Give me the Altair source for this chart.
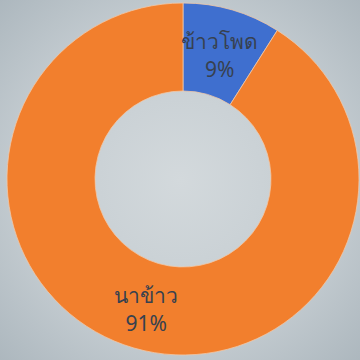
import altair as alt
import pandas as pd

categories = ["ข้าวโพด", "นาข้าว"]
values = [9, 91]
colors = ["#3f6fcf", "#f27f2d"]

df = pd.DataFrame({"cat": categories, "val": values, "idx": list(range(len(values)))})

CX, CY = 183, 179

bg = alt.Chart(pd.DataFrame({"a": [0]})).mark_rect(
    color=alt.Gradient(
        gradient="radial",
        stops=[alt.GradientStop(color="#d3d9dc", offset=0),
               alt.GradientStop(color="#c3cbd0", offset=0.6),
               alt.GradientStop(color="#a9b4bb", offset=1)],
        x1=0.5, y1=0.5, x2=0.5, y2=0.5, r1=0, r2=0.75,
    )
).encode(x=alt.value(0), x2=alt.value(360), y=alt.value(0), y2=alt.value(360))

base = alt.Chart(df).encode(
    theta=alt.Theta("val:Q", stack=True),
    order=alt.Order("idx:Q"),
)

arcs = base.mark_arc(outerRadius=176, innerRadius=88, stroke="#f0c8a8", strokeWidth=0.8).encode(
    color=alt.Color("cat:N", scale=alt.Scale(domain=categories, range=colors), legend=None),
    x=alt.value(CX), y=alt.value(CY),
)

name_labels = base.mark_text(
    radius=132, dy=-9, fontSize=21,
    color="#37414f", font="Noto Sans", align="center", baseline="middle",
).encode(text="cat:N", x=alt.value(CX), y=alt.value(CY))

pct_labels = base.transform_calculate(
    pct="datum.val + '%'"
).mark_text(
    radius=132, dy=19, fontSize=21,
    color="#37414f", font="Noto Sans", align="center", baseline="middle",
).encode(text="pct:N", x=alt.value(CX), y=alt.value(CY))

chart = alt.layer(bg, arcs, name_labels, pct_labels).properties(
    width=360, height=360, padding=0, autosize="none"
).configure_view(stroke=None).configure(background="#c6cdd1")

chart.save("out.html", embed_options={"renderer": "svg", "actions": False})
